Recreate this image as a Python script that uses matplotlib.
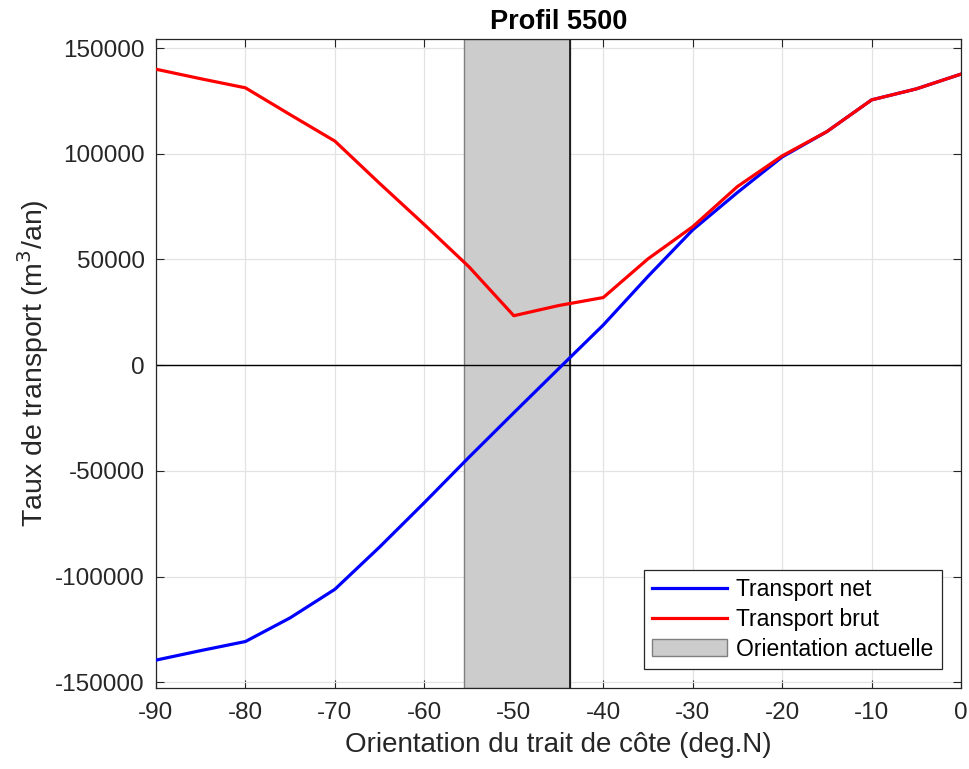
#!/usr/bin/env python3

import numpy as np
import matplotlib
matplotlib.use('Agg')
import matplotlib.pyplot as plt

plt.rcParams['font.family'] = ['Liberation Sans', 'DejaVu Sans']
plt.rcParams['axes.unicode_minus'] = False

# Data
orientation = [-90, -85, -80, -75, -70, -65, -60, -55, -50, -45, -40,
               -35, -30, -25, -20, -15, -10, -5, 0]
transport_net = [-139500, -135000, -130700, -119500, -106000, -86000, -65000,
                 -43500, -22500, -1700, 19000, 42000, 64000, 81700, 98500,
                 110500, 125500, 130700, 137700]
transport_brut = [140000, 135500, 131200, 118500, 106000, 86000, 66500,
                  46500, 23400, 28200, 32000, 50300, 65500, 84500, 99000,
                  110500, 125500, 130700, 137700]
orient_min, orient_actuelle = -55.6, -43.7

fig = plt.figure(figsize=(9.7, 7.69), dpi=100)
ax = fig.add_axes([0.1608, 0.1053, 0.83, 0.844])

# Shaded range of current orientation + black marker line
ax.axvspan(orient_min, orient_actuelle, facecolor='#cccccc', edgecolor='#7f7f7f',
           lw=1, label='Orientation actuelle', zorder=1)
ax.axvline(orient_actuelle, color='black', lw=1.1, zorder=2)
ax.axhline(0, color='black', lw=1.0, zorder=2)

ax.plot(orientation, transport_net, color='#0000ff', lw=2.3, label='Transport net', zorder=3)
ax.plot(orientation, transport_brut, color='#ff0000', lw=2.3, label='Transport brut', zorder=4)

ax.set_xlim(-90, 0)
ax.set_ylim(-152700, 154300)
ax.set_xticks(np.arange(-90, 1, 10))
ax.set_yticks(np.arange(-150000, 150001, 50000))
ax.grid(True, color='#e3e3e3', lw=0.9, zorder=0)
ax.set_axisbelow(True)

ax.tick_params(direction='in', top=True, right=True, labelsize=17.5,
               colors='#262626', length=6, width=0.8)
ax.tick_params(axis='x', pad=10)
ax.tick_params(axis='y', pad=8)
for s in ax.spines.values():
    s.set_color('#262626')
    s.set_linewidth(0.9)

ax.set_xlabel('Orientation du trait de côte (deg.N)', fontsize=20, color='#262626', labelpad=6)
ax.set_ylabel('Taux de transport (m$^3$/an)', fontsize=20.5, color='#262626', labelpad=3)
ax.set_title('Profil 5500', fontsize=19.5, fontweight='bold', pad=7)

h, l = ax.get_legend_handles_labels()
order = [1, 2, 0]
leg = ax.legend([h[i] for i in order], [l[i] for i in order], loc='lower right',
                fontsize=16.5, fancybox=False, framealpha=1, edgecolor='#262626',
                handlelength=3.3, borderaxespad=0.85, labelspacing=0.3,
                handletextpad=0.4, borderpad=0.35)
leg.get_frame().set_linewidth(0.9)

plt.savefig('out.png', dpi=100)
